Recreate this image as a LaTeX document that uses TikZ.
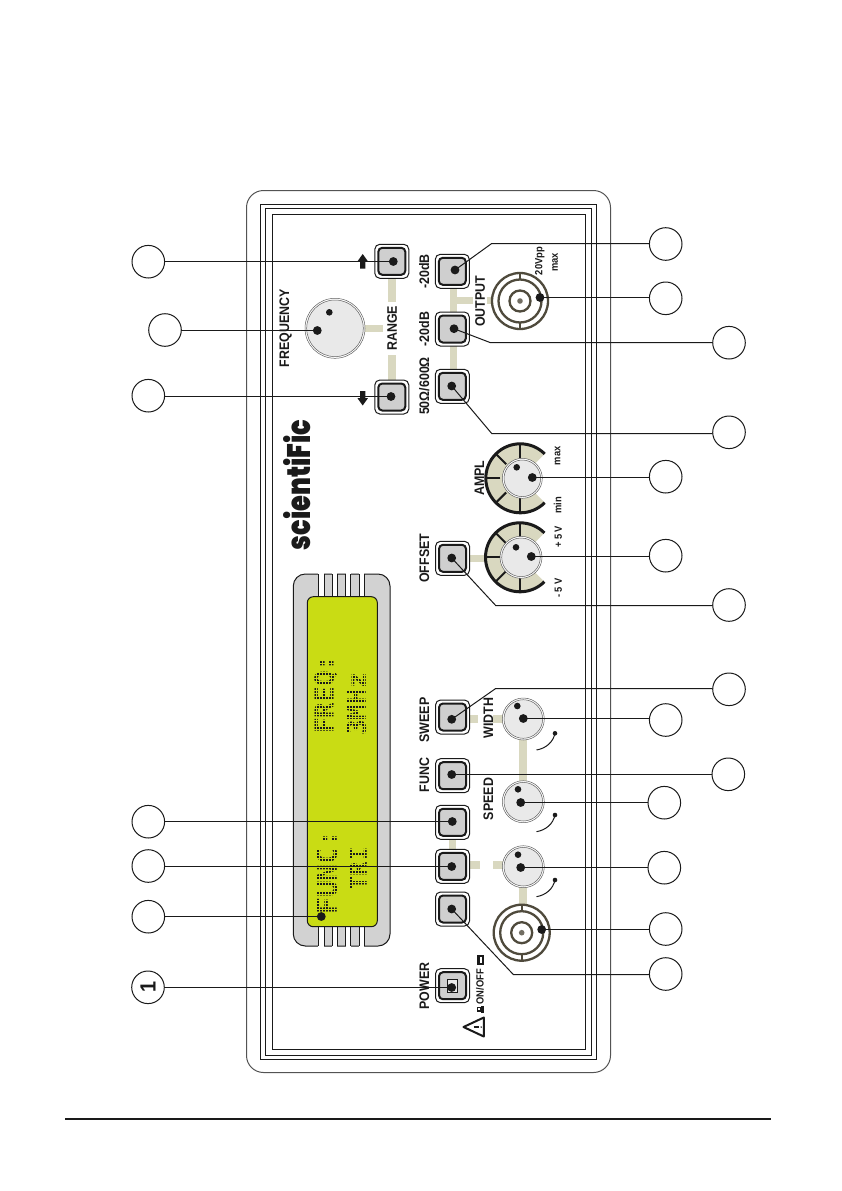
\documentclass[tikz,border=0pt]{standalone}
\usepackage{fontspec}
\setmainfont[FakeStretch=0.9]{Liberation Sans}
\newfontfamily\lcdfont{DejaVu Sans Mono}
\newfontfamily\logofont{Poppins Black}
\usetikzlibrary{calc}
\definecolor{ink}{HTML}{1A1A1A}
\definecolor{beige}{HTML}{D9D8C0}
\definecolor{bncink}{HTML}{4F4A3C}
\definecolor{btngrey}{HTML}{CFCFCF}
\definecolor{knobgrey}{HTML}{E9E9E9}
\definecolor{lcdgreen}{HTML}{C9DC14}
\definecolor{framegrey}{HTML}{D2D2D2}
\tikzset{
  panelrule/.style={draw=ink,line width=1},
  bar/.style={draw=beige,line width=7.2},
  btnout/.style={draw=ink,line width=1,fill=white,rounded corners=5,minimum size=34,inner sep=0,outer sep=0},
  btnin/.style={draw=ink,line width=2,fill=btngrey,rounded corners=4,minimum size=27,inner sep=0,outer sep=0},
  spot/.style={circle,fill=ink,minimum size=8.8,inner sep=0,outer sep=0},
  smallspot/.style={circle,fill=ink,minimum size=6.6,inner sep=0,outer sep=0},
  callout/.style={circle,draw=ink,line width=1,fill=white,minimum size=32.6,inner sep=0,outer sep=0},
  leader/.style={draw=ink,line width=1},
  lab/.style={rotate=90,inner sep=0,text=ink,font=\bfseries\fontsize{13.8}{15}\selectfont},
  tiny/.style={rotate=90,inner sep=0,text=ink,font=\bfseries\fontsize{10.4}{12}\selectfont},
  lcdtxt/.style={rotate=90,inner sep=0,text=ink,anchor=south west},
  knobout/.style={circle,draw=ink!70,line width=0.5,fill=white,inner sep=0,outer sep=0},
  knobin/.style={circle,draw=ink!70,line width=0.5,fill=knobgrey,inner sep=0,outer sep=0},
  bncline/.style={draw=bncink,line width=2.3},
  dialline/.style={draw=ink,line width=3},
}
\newcommand{\panelbtn}[3]{%
  \node[btnout] (#1o) at (#2,#3) {};
  \node[btnin] (#1i) at (#2,#3) {};}
\newcommand{\panelknob}[4]{% name x y radius
  \node[knobout,minimum size=#4*2] (#1o) at (#2,#3) {};
  \node[knobin,minimum size=#4*2-3.4] (#1i) at (#2,#3) {};}
\newcommand{\paneldial}[2]{%
  \fill[beige] (#1,#2) -- ++(45:34.5) arc[start angle=45,end angle=315,radius=34.5] -- cycle;
  \draw[dialline] ($(#1,#2)+(45:34.5)$) arc[start angle=45,end angle=315,radius=34.5];
  \foreach \a in {90,135,180,225,270}{\draw[draw=ink,line width=2] ($(#1,#2)+(\a:20)$) -- ($(#1,#2)+(\a:34.5)$);}}
\newcommand{\panelbnc}[2]{%
  \draw[bncline] (#1,#2) circle[radius=28];
  \draw[bncline] (#1,#2) circle[radius=21.5];
  \draw[bncline] (#1,#2) circle[radius=10.5];
  \fill[bncink!80] (#1,#2) circle[radius=2.8];
  \draw[bncline] (#1,#2-28) -- (#1,#2-21.5);
  \draw[bncline] (#1,#2+21.5) -- (#1,#2+28);}
\newcommand{\adjarc}[2]{% x,y of the arc's dot end
  \draw[draw=ink,line width=1] (#1,#2) .. controls (#1-2,#2+9) and (#1-9,#2+15) .. (#1-18.5,#2+16.7);
  \fill[ink] (#1,#2) circle[radius=2.3];}
\begin{document}
\begin{tikzpicture}[x=1pt,y=-1pt]
\useasboundingbox (0,0) rectangle (841,1191);
\fill[white] (0,0) rectangle (841,1191);

% panel
\draw[draw=ink!75,line width=1,rounded corners=17] (246.5,190.5) rectangle (610.5,1072.5);
\draw[panelrule] (260.5,204.5) rectangle (596.5,1059.5);
\draw[panelrule] (265.5,208.5) rectangle (591.5,1055.5);
\draw[panelrule] (272.5,214.5) rectangle (585.5,1049.5);

% footer rule
\draw[draw=ink,line width=1.9] (65,1119.3) -- (771,1119.3);

% LCD frame
\draw[draw=ink,line width=1,fill=framegrey,rounded corners=12] (293.3,574) rectangle (390,946);
\foreach \a/\b in {318.3/324.3,332.3/337.3,345.7/350.7,359.3/364}{
  \fill[white] (\a,572) rectangle (\b,948);
  \draw[draw=ink,line width=0.9] (\a,574) -- (\a,597) (\b,574) -- (\b,597) (\a,926) -- (\a,946) (\b,926) -- (\b,946);
}
\draw[draw=ink,line width=1,fill=lcdgreen,rounded corners=6] (307.3,596.7) rectangle (377.3,926.7);
\node[lcdtxt,font=\lcdfont\bfseries\fontsize{26}{28}\selectfont] (lcdA) at (337.5,734) {FREQ:};
\node[lcdtxt,font=\lcdfont\bfseries\fontsize{26}{28}\selectfont] (lcdB) at (366.5,736) {3MHz};
\node[lcdtxt,font=\lcdfont\bfseries\fontsize{28}{30}\selectfont] (lcdC) at (337.5,915) {FUNC:};
\node[lcdtxt,font=\lcdfont\bfseries\fontsize{24}{26}\selectfont] (lcdD) at (367,891) {TRI};
% dot-matrix raster over the LCD lettering
\foreach \v in {645,648,...,925}{\draw[draw=lcdgreen,line width=0.7] (312,\v) -- (372,\v);}
\foreach \u in {313,316,...,370}{\draw[draw=lcdgreen,line width=0.7] (\u,645) -- (\u,925);}

% logo
\node[rotate=90,inner sep=0,text=ink,font=\logofont\fontsize{21}{24}\selectfont] (logo) at (297.5,485) {\scalebox{1.22}[1.55]{scientiFic}};

% beige links
\draw[bar] (392,274) -- (392,302);
\draw[bar] (392,355) -- (392,382);
\draw[bar] (365,328.3) -- (382.7,328.3);
\draw[bar] (453.3,271) -- (453.3,386);
\draw[bar] (453.3,300.7) -- (473.3,300.7);
\draw[bar] (486.7,300.7) -- (491.7,300.7);
\draw[bar] (466.7,558.7) -- (486,558.7);
\draw[bar] (466.7,719) -- (478,719);
\draw[bar] (493.3,719) -- (505,719);
\draw[bar,line width=8] (523.3,736) -- (523.3,782);
\draw[bar] (452.7,837) -- (452.7,851);
\draw[bar] (466,865) -- (480,865);
\draw[bar] (493,865) -- (505,865);
\draw[bar,line width=8] (523.3,885) -- (523.3,905);

% buttons
\panelbtn{up}{391.8}{261.3}
\panelbtn{down}{391.8}{397}
\panelbtn{atta}{452.3}{271.3}
\panelbtn{attb}{452.3}{329}
\panelbtn{imp}{452.3}{386.3}
\panelbtn{off}{452.5}{558.3}
\panelbtn{swp}{452.5}{717}
\panelbtn{fnc}{452.5}{775.7}
\panelbtn{bta}{452.5}{822.3}
\panelbtn{btb}{452.5}{866.3}
\panelbtn{btc}{452.5}{909}
\panelbtn{pwr}{452.5}{985.7}
\draw[draw=ink,line width=0.6,fill=knobgrey] (447.3,979.3) rectangle (457.3,992.7);

% range arrows
\fill[ink] (362.7,254) -- (367.9,261.3) -- (365.3,261.3) -- (365.3,268.5) -- (360.1,268.5) -- (360.1,261.3) -- (357.5,261.3) -- cycle;
\fill[ink] (362.7,405.5) -- (367.9,398.2) -- (365.3,398.2) -- (365.3,391) -- (360.1,391) -- (360.1,398.2) -- (357.5,398.2) -- cycle;

% dials, knobs, connectors
\paneldial{520.3}{478.3}
\paneldial{520}{557.3}
\panelknob{freq}{335}{328.3}{30}
\panelknob{ampl}{522.3}{478.3}{20}
\panelknob{ofs}{521}{557.3}{21}
\panelknob{wid}{523.3}{719}{21}
\panelknob{spd}{523.3}{801.7}{21}
\panelknob{thr}{523.3}{866.7}{21}
\panelbnc{520}{301}
\panelbnc{521.7}{932.7}
\adjarc{555}{733.3}
\adjarc{555}{815}
\adjarc{555}{880}

% small spots on knobs
\node[smallspot] (sa) at (329.3,312.3) {};
\node[smallspot] (sb) at (516.7,467.3) {};
\node[smallspot] (sc) at (516,547.3) {};
\node[smallspot] (sd) at (517.3,706) {};
\node[smallspot] (se) at (518,789.3) {};
\node[smallspot] (sf) at (518,854.7) {};

% labels
\node[lab] (tFreq) at (285.7,328.3) {FREQUENCY};
\node[lab] (tRange) at (392,328.3) {RANGE};
\node[lab] (tAttA) at (424.3,271.3) {-20dB};
\node[lab] (tAttB) at (424.3,329) {-20dB};
\node[lab] (tImp) at (424.3,386) {50Ω/600Ω};
\node[lab] (tOut) at (480,301.3) {OUTPUT};
\node[tiny] (tVpp) at (539.8,261) {20Vpp};
\node[tiny] (tVmax) at (555,262.5) {max};
\node[lab] (tAmpl) at (479.3,478) {AMPL};
\node[tiny] (tMax) at (557.7,455.7) {max};
\node[tiny] (tMin) at (557.7,505) {min};
\node[tiny] (tPlus) at (558.3,536.8) {+ 5 V};
\node[tiny] (tMinus) at (558.3,588) {- 5 V};
\node[lab] (tOffset) at (424.3,558.3) {OFFSET};
\node[lab] (tSweep) at (424.3,720) {SWEEP};
\node[lab] (tFunc) at (424.3,775) {FUNC};
\node[lab] (tPower) at (424.3,986) {POWER};
\node[lab] (tWidth) at (488.3,718) {WIDTH};
\node[lab] (tSpeed) at (488.3,799) {SPEED};
\node[tiny] (tOnoff) at (480,986.7) {ON/OFF};

% switch symbols and warning sign
\draw[draw=ink,line width=2.2,fill=white] (478.5,956) rectangle (483.3,964);
\fill[ink] (481.2,1006) rectangle (484.3,1012.5);
\draw[draw=ink,line width=1.7,fill=white] (477.6,1007.5) rectangle (481.2,1011.3);
\draw[draw=ink,line width=2,line join=round] (463.5,1027) -- (483.8,1017.5) -- (483.8,1036.5) -- cycle;
\draw[draw=ink,line width=1.2] (473.5,1027) -- (479,1027);
\fill[ink] (481.2,1027) circle[radius=0.8];

% callouts
\node[callout] (cL1) at (148.3,261.7) {};
\node[callout] (cL2) at (165,330) {};
\node[callout] (cL3) at (148.3,395.7) {};
\node[callout] (cL4) at (148.3,821.7) {};
\node[callout] (cL5) at (148.3,866) {};
\node[callout] (cL6) at (148.3,916.7) {};
\node[callout] (cL7) at (148,987.3) {\rotatebox{90}{\bfseries\fontsize{22}{24}\selectfont\textcolor{ink}{1}}};
\node[callout] (cR1) at (665.7,244) {};
\node[callout] (cR2) at (665.7,298.3) {};
\node[callout] (cR3) at (729,342.7) {};
\node[callout] (cR4) at (729,432.3) {};
\node[callout] (cR5) at (665.7,476.7) {};
\node[callout] (cR6) at (665.7,555.7) {};
\node[callout] (cR7) at (729,605) {};
\node[callout] (cR8) at (729,689.3) {};
\node[callout] (cR9) at (665.7,720) {};
\node[callout] (cR10) at (728.3,774.3) {};
\node[callout] (cR11) at (664.3,802.7) {};
\node[callout] (cR12) at (664.3,867.7) {};
\node[callout] (cR13) at (665.7,929) {};
\node[callout] (cR14) at (665.7,974) {};

% big spots
\node[spot] (dL1) at (393.3,261.5) {};
\node[spot] (dL2) at (317.3,330.5) {};
\node[spot] (dL3) at (391,396.5) {};
\node[spot] (dL4) at (452.3,821.5) {};
\node[spot] (dL5) at (451.7,866.5) {};
\node[spot] (dL6) at (321.3,916.5) {};
\node[spot] (dL7) at (451.7,987.5) {};
\node[spot] (dR1) at (455,270) {};
\node[spot] (dR2) at (540,297.5) {};
\node[spot] (dR3) at (454,328.7) {};
\node[spot] (dR4) at (451.7,386) {};
\node[spot] (dR5) at (532.3,477.5) {};
\node[spot] (dR6) at (531.3,556.5) {};
\node[spot] (dR7) at (451.7,558) {};
\node[spot] (dR8) at (451.7,719.3) {};
\node[spot] (dR9) at (523.3,718.5) {};
\node[spot] (dR10) at (451.7,774.5) {};
\node[spot] (dR11) at (520.7,802.5) {};
\node[spot] (dR12) at (520.7,867.5) {};
\node[spot] (dR13) at (541.7,929.5) {};
\node[spot] (dR14) at (451.7,909) {};

% leader bends
\coordinate (bR1) at (491.7,243.5);
\coordinate (bR3) at (490,342.5);
\coordinate (bR4) at (491.7,433.5);
\coordinate (bR7) at (495.7,605.5);
\coordinate (bR8) at (495.7,688.5);
\coordinate (bR14) at (513.3,974.5);

% leaders
\foreach \n in {1,...,7}{\draw[leader] (dL\n.center -| cL\n.east) -- (dL\n.center);}
\draw[leader] (dR1.center) -- (bR1) -- (bR1 -| cR1.west);
\draw[leader] (dR3.center) -- (bR3) -- (bR3 -| cR3.west);
\draw[leader] (dR4.center) -- (bR4) -- (bR4 -| cR4.west);
\draw[leader] (dR7.center) -- (bR7) -- (bR7 -| cR7.west);
\draw[leader] (dR8.center) -- (bR8) -- (bR8 -| cR8.west);
\draw[leader] (dR14.center) -- (bR14) -- (bR14 -| cR14.west);
\foreach \n in {2,5,6,9,10,11,12,13}{\draw[leader] (dR\n.center) -- (dR\n.center -| cR\n.west);}
\end{tikzpicture}
\end{document}
